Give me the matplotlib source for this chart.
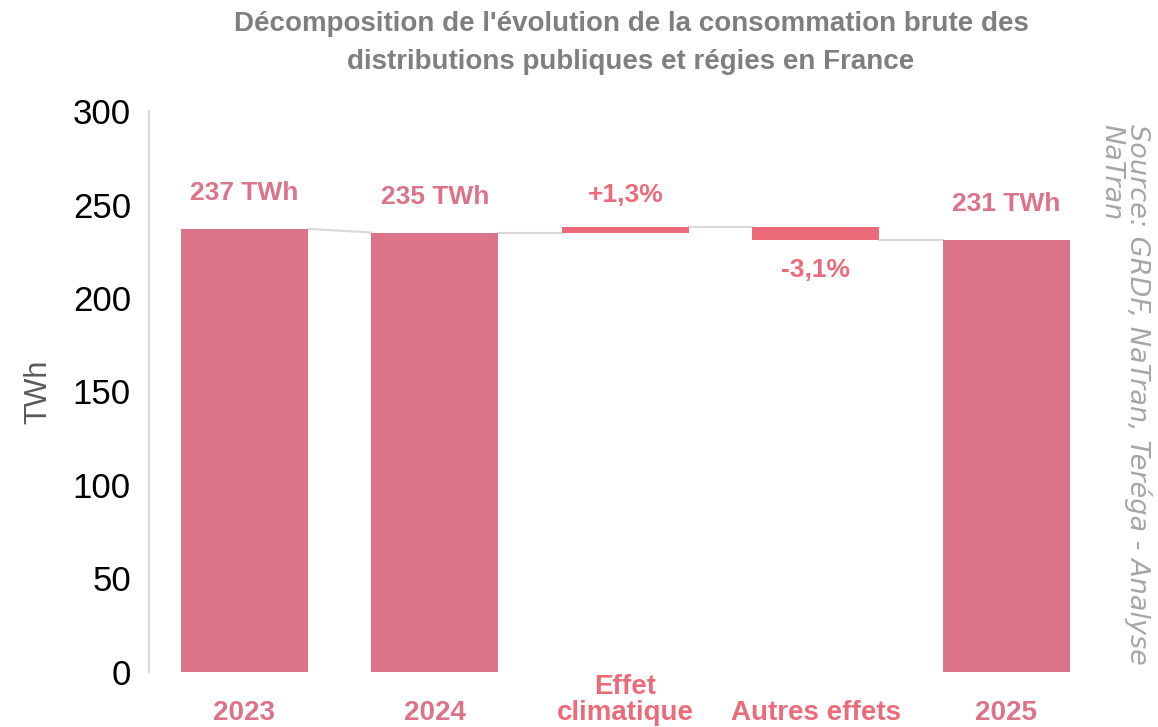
import numpy as np
import matplotlib.pyplot as plt
from matplotlib import transforms

# Data
categories = ["2023", "2024", "Effet\nclimatique", "Autres effets", "2025"]
totals = {"2023": 237.0, "2024": 235.0, "2025": 231.0}
effects = {"Effet\nclimatique": 3.05, "Autres effets": -7.05}
value_labels = ["237 TWh", "235 TWh", "+1,3%", "-3,1%", "231 TWh"]
y_ticks = [0, 50, 100, 150, 200, 250, 300]

TOTAL_COLOR = "#DB7389"
EFFECT_COLOR = "#EC6B7B"
GRID_GRAY = "#D9D9D9"
TEXT_GRAY = "#7F7F7F"

plt.rcParams["font.family"] = ["Liberation Sans", "DejaVu Sans"]

fig = plt.figure(figsize=(11.58, 7.27), dpi=100)
ax = fig.add_axes([0.1287, 0.0757, 0.8226, 0.7716])

x = np.arange(len(categories))
width = 0.667

# floating bars for the waterfall
bottoms, heights, colors = [], [], []
levels_in, levels_out = [], []
running = None
for cat in categories:
    if cat in totals:
        running = totals[cat]
        levels_in.append(running)
        bottoms.append(0)
        heights.append(running)
        colors.append(TOTAL_COLOR)
    else:
        d = effects[cat]
        levels_in.append(running)
        bottoms.append(min(running, running + d))
        heights.append(abs(d))
        running = running + d
        colors.append(EFFECT_COLOR)
    levels_out.append(running)

ax.bar(x, heights, bottom=bottoms, width=width, color=colors, zorder=3)

# connector lines
for i in range(len(categories) - 1):
    ax.plot([x[i] + width / 2, x[i + 1] - width / 2],
            [levels_out[i], levels_in[i + 1]],
            color=GRID_GRAY, lw=1.5, zorder=2)

# value labels
for i, cat in enumerate(categories):
    top = bottoms[i] + heights[i]
    if cat in totals:
        ax.annotate(value_labels[i], (x[i], top), xytext=(0, 17), textcoords="offset points",
                    ha="center", va="bottom", fontsize=19, fontweight="bold", color=TOTAL_COLOR)
    elif effects[cat] >= 0:
        ax.annotate(value_labels[i], (x[i], top), xytext=(0, 14), textcoords="offset points",
                    ha="center", va="bottom", fontsize=19, fontweight="bold", color=EFFECT_COLOR)
    else:
        ax.annotate(value_labels[i], (x[i], bottoms[i]), xytext=(0, -13), textcoords="offset points",
                    ha="center", va="top", fontsize=19, fontweight="bold", color=EFFECT_COLOR)

# category labels
trans = transforms.blended_transform_factory(ax.transData, ax.transAxes)
for i, cat in enumerate(categories):
    col = TOTAL_COLOR if cat in totals else EFFECT_COLOR
    ax.text(x[i], -0.085, cat, transform=trans, ha="center", va="baseline",
            fontsize=20, fontweight="bold", color=col, linespacing=1.0)

ax.set_xlim(-0.5, len(categories) - 0.5)
ax.set_ylim(0, 300)
ax.set_yticks(y_ticks)
ax.set_yticklabels([str(t) for t in y_ticks], fontsize=25, color="black")
ax.tick_params(axis="y", length=0, pad=13)
ax.set_xticks([])
for s in ["top", "right", "bottom"]:
    ax.spines[s].set_visible(False)
ax.spines["left"].set_color(GRID_GRAY)
ax.spines["left"].set_linewidth(1.5)

ax.set_ylabel("TWh", fontsize=22, color="#595959", labelpad=14)

fig.text(0.545, 0.985, "Décomposition de l'évolution de la consommation brute des\n"
         "distributions publiques et régies en France",
         ha="center", va="top", fontsize=20, fontweight="bold", color=TEXT_GRAY, linespacing=1.6)

fig.text(0.995, 0.83, "Source: GRDF, NaTran, Teréga - Analyse\nNaTran",
         rotation=-90, ha="right", va="top", fontsize=19.5, style="italic",
         color="#A6A6A6", family=["DejaVu Sans"], linespacing=1.0,
         multialignment="left")

fig.savefig("out.png", dpi=100)
